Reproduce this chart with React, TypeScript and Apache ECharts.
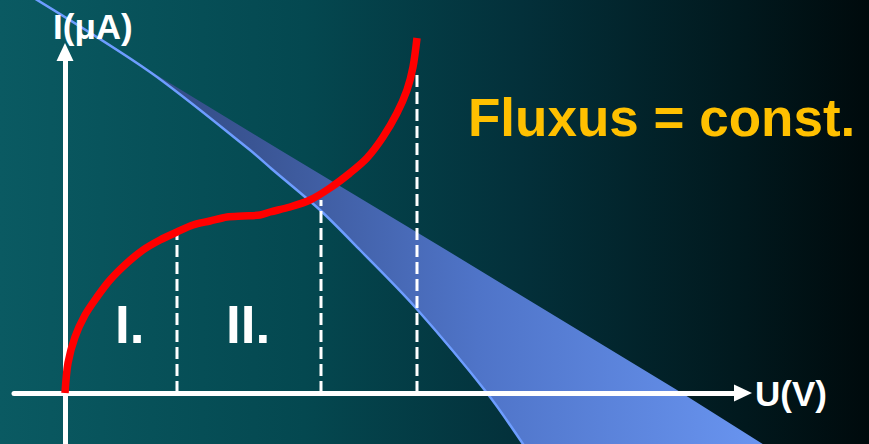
import React, { useEffect, useRef } from "react";
import * as echarts from "echarts";

// Diode-like I(U) characteristic (U in arbitrary units, I in arbitrary units)
const curveU = [0, 0.3, 1.0, 2.0, 3.2, 4.5, 6.2, 7.8, 9.5, 11.2, 12.8, 14.5, 16.2, 17.8, 19.5, 20.5, 22.5, 24.5, 26.5, 28.5, 30.2, 31.8, 33.2, 34.2, 34.8, 35.2];
const curveI = [0, 3.0, 5.6, 7.8, 9.6, 11.3, 13.0, 14.3, 15.3, 16.1, 16.8, 17.2, 17.6, 17.7, 17.8, 18.1, 18.6, 19.3, 20.5, 22.0, 23.5, 25.6, 28.0, 30.3, 32.6, 35.5];

// Load line (steep edge of the band)
const loadLowU = [-3.6, 8.5, 18.5, 20.8, 25.5, 29.5, 35.0, 42.2, 46.4];
const loadLowI = [39.8, 32.1, 24.3, 22.3, 18.3, 14.3, 8.6, 0, -6.0];

// Load line (flat edge of the band)
const loadHighU = [-3.6, 8.5, 21.5, 37.8, 61.2, 71.2];
const loadHighI = [39.8, 32.2, 24.3, 14.5, 0.3, -6.0];

// Region boundaries (dashed verticals)
const markerU = [11.2, 25.6, 35.2];
const markerTopI = [16.1, 19.3, 32.1];

const regionLabels = ["I.", "II."];
const yAxisName = "I(μA)";
const xAxisName = "U(V)";
const title = "Fluxus = const.";

const zip = (a: number[], b: number[]) => a.map((v, i) => [v, b[i]]);

export default function App() {
  const ref = useRef<HTMLDivElement>(null);

  useEffect(() => {
    if (!ref.current) return;
    const chart = echarts.init(ref.current, undefined, { renderer: "svg" });

    const font = "'Liberation Sans', Arial, sans-serif";
    const upper = zip(loadHighU, loadHighI);
    const lower = zip(loadLowU, loadLowI);

    const dashed = markerU.map((u, i) => ({
      type: "line",
      data: [
        [u, 0],
        [u, markerTopI[i]],
      ],
      symbol: "none",
      z: 3,
      clip: false,
      lineStyle: { color: "#ffffff", width: 3, type: [12, 5] },
    }));

    chart.setOption({
      animation: false,
      backgroundColor: new echarts.graphic.LinearGradient(0, 0, 1, 0, [
        { offset: 0, color: "#0a5a62" },
        { offset: 0.35, color: "#044850" },
        { offset: 0.6, color: "#03303a" },
        { offset: 0.85, color: "#01191e" },
        { offset: 1, color: "#000a0c" },
      ]),
      grid: { left: 14, right: 126, top: 52, bottom: 0, containLabel: false },
      xAxis: {
        type: "value",
        min: -5.1,
        max: 67.8,
        z: 2,
        axisLine: {
          onZero: true,
          symbol: ["none", "triangle"],
          symbolSize: [17, 18],
          lineStyle: { color: "#ffffff", width: 5 },
        },
        axisTick: { show: false },
        axisLabel: { show: false },
        splitLine: { show: false },
      },
      yAxis: {
        type: "value",
        min: -5.1,
        max: 34.1,
        z: 2,
        axisLine: {
          onZero: true,
          symbol: ["none", "triangle"],
          symbolSize: [17, 18],
          lineStyle: { color: "#ffffff", width: 5 },
        },
        axisTick: { show: false },
        axisLabel: { show: false },
        splitLine: { show: false },
      },
      series: [
        {
          type: "custom",
          z: 1,
          clip: false,
          silent: true,
          data: [0],
          renderItem: (_params: any, api: any) => {
            const pts = upper
              .map((p) => api.coord(p))
              .concat(lower.slice().reverse().map((p) => api.coord(p)));
            return {
              type: "polygon",
              shape: { points: pts },
              style: {
                fill: new echarts.graphic.LinearGradient(0, 0, 1, 0, [
                  { offset: 0, color: "#2a4274" },
                  { offset: 0.3, color: "#3a5594" },
                  { offset: 0.6, color: "#4f74c8" },
                  { offset: 1, color: "#6a96f2" },
                ]),
                stroke: null,
              },
            };
          },
        },
        {
          type: "line",
          data: lower,
          symbol: "none",
          smooth: 0.3,
          z: 1,
          clip: false,
          lineStyle: { color: "#6d9dff", width: 2.5 },
        },
        ...dashed,
        {
          type: "line",
          data: zip(curveU, curveI),
          symbol: "none",
          smooth: 0.3,
          z: 4,
          clip: false,
          lineStyle: { color: "#ff0000", width: 7.5, cap: "butt" },
        },
      ],
      graphic: [
        {
          type: "text",
          x: 53,
          y: 26,
          z: 10,
          style: { text: yAxisName, fill: "#ffffff", font: `bold 35px ${font}`, verticalAlign: "middle", align: "left" },
        },
        {
          type: "text",
          x: 755,
          y: 393,
          z: 10,
          style: { text: xAxisName, fill: "#ffffff", font: `bold 35px ${font}`, verticalAlign: "middle", align: "left" },
        },
        {
          type: "text",
          x: 115,
          y: 324,
          z: 10,
          style: { text: regionLabels[0], fill: "#ffffff", font: `bold 53px ${font}`, verticalAlign: "middle", align: "left" },
        },
        {
          type: "text",
          x: 226,
          y: 324,
          z: 10,
          style: { text: regionLabels[1], fill: "#ffffff", font: `bold 53px ${font}`, verticalAlign: "middle", align: "left" },
        },
        {
          type: "text",
          x: 468,
          y: 117,
          z: 10,
          style: { text: title, fill: "#ffc000", font: `bold 53px ${font}`, verticalAlign: "middle", align: "left" },
        },
      ],
    });

    return () => chart.dispose();
  }, []);

  return (
    <div
      ref={ref}
      style={{ position: "fixed", left: 0, top: 0, width: 869, height: 444 }}
    />
  );
}
